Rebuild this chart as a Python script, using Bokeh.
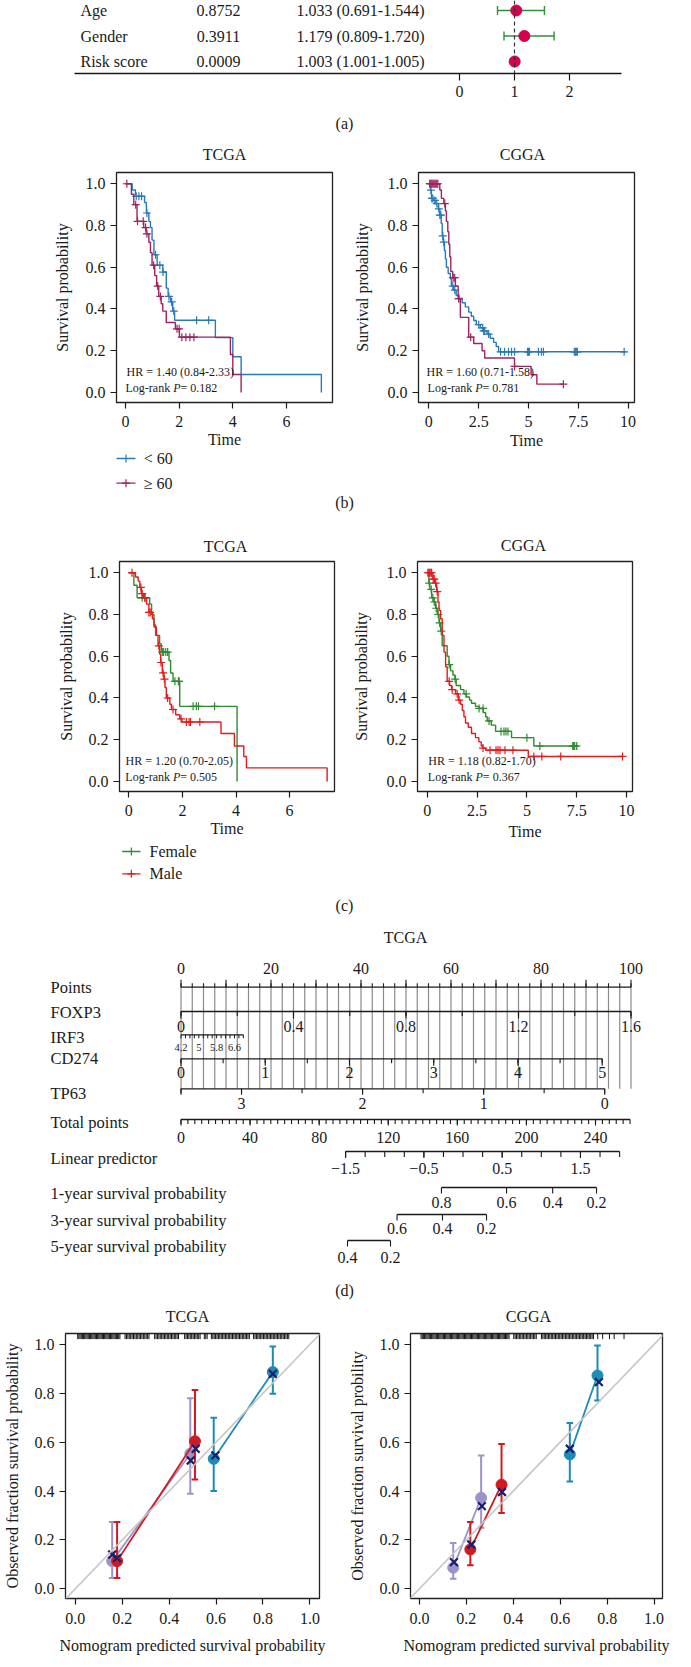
import numpy as np
from bokeh.plotting import figure
from bokeh.models import Range1d, FixedTicker, Label, Span, Slope
from bokeh.layouts import column, row
from bokeh.core.properties import value
from bokeh.embed import file_html
from bokeh.resources import INLINE

FONT = "Liberation Serif"
INK = "#1a1a1a"

# ======================= DATA =======================
# (a) multivariate Cox forest
forest_vars = ["Age", "Gender", "Risk score"]
forest_p = ["0.8752", "0.3911", "0.0009"]
forest_hr = [1.033, 1.179, 1.003]
forest_lo = [0.691, 0.809, 1.001]
forest_hi = [1.544, 1.720, 1.005]
forest_ticks = [0, 1, 2]

# (b) age groups  -- TCGA
b_tcga_young_t = [0, 0.25, 0.37, 0.71, 0.78, 0.87, 0.93, 0.99, 1.06, 1.18, 1.39, 1.52, 1.59, 1.68, 1.76, 1.83, 3.35, 4.0, 4.31, 7.3]
b_tcga_young_s = [1.0, 0.97, 0.94, 0.91, 0.86, 0.82, 0.79, 0.73, 0.66, 0.61, 0.577, 0.50, 0.46, 0.434, 0.39, 0.346, 0.263, 0.171, 0.086, 0.0]
b_tcga_young_c = [0.4, 0.5, 0.6, 0.8, 1.12, 1.28, 1.4, 1.62, 1.72, 1.8, 2.65, 3.1]
b_tcga_old_t = [0, 0.22, 0.31, 0.43, 0.68, 0.77, 0.87, 0.93, 0.99, 1.09, 1.16, 1.24, 1.33, 1.39, 1.52, 1.86, 2.01, 3.91, 4.0, 4.31]
b_tcga_old_s = [1.0, 0.95, 0.90, 0.82, 0.79, 0.76, 0.72, 0.67, 0.61, 0.56, 0.51, 0.46, 0.425, 0.39, 0.335, 0.305, 0.265, 0.182, 0.086, 0.0]
b_tcga_old_c = [0.05, 0.38, 0.45, 0.66, 0.75, 0.8, 1.05, 1.2, 1.3, 1.92, 2.0, 2.1, 2.25, 2.4, 2.55]
# (b) age groups  -- CGGA
b_cgga_young_t = [0, 0.08, 0.13, 0.25, 0.33, 0.47, 0.55, 0.62, 0.67, 0.72, 0.78, 0.83, 0.88, 0.97, 1.08, 1.13, 1.25, 1.37, 1.5, 1.67, 1.83, 2.0, 2.13, 2.25, 2.38, 2.58, 2.75, 2.92, 3.08, 3.25, 3.38, 3.5, 9.9]
b_cgga_young_s = [1.0, 0.97, 0.93, 0.92, 0.905, 0.88, 0.85, 0.81, 0.75, 0.72, 0.68, 0.64, 0.60, 0.57, 0.545, 0.51, 0.49, 0.465, 0.45, 0.43, 0.41, 0.385, 0.365, 0.345, 0.325, 0.31, 0.295, 0.28, 0.26, 0.24, 0.22, 0.195, 0.195]
b_cgga_young_c = [0.05, 0.1, 0.15, 0.2, 0.3, 0.4, 0.5, 0.55, 0.6, 0.7, 0.75, 1.2, 1.3, 1.5, 2.5, 2.7, 2.75, 2.8, 3.0, 3.6, 3.8, 4.0, 4.15, 4.3, 4.95, 5.0, 5.05, 5.5, 5.65, 5.75, 7.3, 7.35, 7.4, 7.45, 9.8]
b_cgga_old_t = [0, 0.55, 0.63, 0.75, 0.83, 0.88, 0.95, 1.0, 1.05, 1.1, 1.2, 1.33, 1.47, 1.58, 2.0, 2.25, 2.67, 2.8, 4.3, 5.13, 5.42, 6.75]
b_cgga_old_s = [1.0, 0.97, 0.93, 0.905, 0.87, 0.82, 0.77, 0.71, 0.65, 0.58, 0.55, 0.51, 0.45, 0.36, 0.265, 0.235, 0.20, 0.165, 0.125, 0.085, 0.04, 0.04]
b_cgga_old_c = [0.05, 0.1, 0.15, 0.2, 0.25, 0.3, 0.35, 0.4, 0.45, 0.8, 1.22, 1.3, 1.5, 2.1, 4.3, 6.75]

# (c) gender groups -- TCGA
c_tcga_f_t = [0, 0.19, 0.31, 0.78, 0.85, 0.94, 1.0, 1.15, 1.21, 1.5, 1.56, 1.65, 1.9, 4.04]
c_tcga_f_s = [1.0, 0.94, 0.88, 0.85, 0.80, 0.75, 0.70, 0.66, 0.62, 0.58, 0.52, 0.48, 0.36, 0.0]
c_tcga_f_c = [0.5, 0.6, 1.25, 1.3, 1.38, 1.45, 1.72, 1.85, 1.88, 2.4, 2.52, 2.6, 3.2]
c_tcga_m_t = [0, 0.25, 0.35, 0.41, 0.47, 0.54, 0.66, 0.75, 0.88, 0.94, 1.03, 1.09, 1.15, 1.19, 1.25, 1.31, 1.35, 1.4, 1.53, 1.59, 1.75, 1.9, 1.98, 3.44, 3.94, 4.29, 4.39, 7.4]
c_tcga_m_s = [1.0, 0.98, 0.96, 0.93, 0.90, 0.88, 0.85, 0.81, 0.78, 0.74, 0.70, 0.65, 0.61, 0.57, 0.52, 0.49, 0.45, 0.40, 0.37, 0.345, 0.32, 0.30, 0.285, 0.23, 0.17, 0.12, 0.065, 0.0]
c_tcga_m_c = [0.12, 0.45, 0.5, 0.6, 0.75, 0.8, 1.12, 1.2, 1.28, 1.33, 1.45, 1.65, 1.95, 2.15, 2.25, 2.3, 2.65]
# (c) gender groups -- CGGA
c_cgga_f_t = [0, 0.08, 0.13, 0.22, 0.33, 0.42, 0.5, 0.59, 0.67, 0.75, 1.0, 1.09, 1.17, 1.29, 1.39, 1.45, 1.67, 1.84, 1.96, 2.12, 2.22, 2.42, 2.59, 2.81, 2.93, 3.01, 3.21, 3.43, 4.23, 5.35, 7.6]
c_cgga_f_s = [1.0, 0.95, 0.92, 0.88, 0.86, 0.83, 0.80, 0.76, 0.72, 0.65, 0.60, 0.56, 0.53, 0.51, 0.49, 0.46, 0.44, 0.42, 0.405, 0.39, 0.375, 0.36, 0.35, 0.33, 0.31, 0.29, 0.27, 0.24, 0.21, 0.17, 0.17]
c_cgga_f_c = [0.1, 0.2, 0.28, 0.35, 0.45, 0.55, 0.62, 0.7, 1.1, 1.4, 1.95, 2.6, 2.8, 3.1, 3.7, 3.85, 3.95, 4.05, 5.0, 5.65, 7.3, 7.35, 7.4, 7.5]
c_cgga_m_t = [0, 0.28, 0.38, 0.47, 0.54, 0.59, 0.67, 0.75, 0.84, 0.92, 1.0, 1.12, 1.22, 1.42, 1.56, 1.67, 1.76, 1.84, 1.92, 2.06, 2.22, 2.42, 2.59, 2.71, 2.79, 2.93, 5.07, 9.8]
c_cgga_m_s = [1.0, 0.97, 0.95, 0.91, 0.86, 0.82, 0.78, 0.70, 0.62, 0.55, 0.48, 0.46, 0.44, 0.42, 0.39, 0.37, 0.34, 0.31, 0.28, 0.26, 0.23, 0.21, 0.19, 0.17, 0.16, 0.15, 0.12, 0.12]
c_cgga_m_c = [0.03, 0.08, 0.12, 0.18, 0.22, 0.3, 0.35, 0.42, 0.5, 1.1, 1.25, 1.5, 1.6, 2.8, 3.15, 3.45, 3.55, 3.65, 3.9, 4.3, 5.35, 5.75, 6.7, 9.8]

km_hr = {"b_tcga": "HR = 1.40 (0.84-2.33)", "b_cgga": "HR = 1.60 (0.71-1.58)",
         "c_tcga": "HR = 1.20 (0.70-2.05)", "c_cgga": "HR = 1.18 (0.82-1.70)"}
km_p = {"b_tcga": "0.182", "b_cgga": "0.781", "c_tcga": "0.505", "c_cgga": "0.367"}
age_groups = ["< 60", "\u2265 60"]
sex_groups = ["Female", "Male"]
prob_ticks = [0, 0.2, 0.4, 0.6, 0.8, 1]
prob_labels = {0: "0.0", 0.2: "0.2", 0.4: "0.4", 0.6: "0.6", 0.8: "0.8", 1: "1.0"}
tcga_xticks = [0, 2, 4, 6]
cgga_xticks = [0, 2.5, 5, 7.5, 10]
cgga_xlabels = {0: "0", 2.5: "2.5", 5: "5", 7.5: "7.5", 10: "10"}

# (d) nomogram (TCGA)
nom_rows = ["Points", "FOXP3", "IRF3", "CD274", "TP63", "Total points", "Linear predictor",
            "1-year survival probability", "3-year survival probability", "5-year survival probability"]
points_labels = [0, 20, 40, 60, 80, 100]
foxp3_range = (0.0, 1.6); foxp3_pts_per_unit = 62.5
foxp3_labels = [0, 0.4, 0.8, 1.2, 1.6]
irf3_range = (4.2, 7.0); irf3_pts_per_unit = 4.95
irf3_labels = [4.2, 5, 5.8, 6.6]
cd274_range = (0.0, 5.0); cd274_pts_per_unit = 18.72
cd274_labels = [0, 1, 2, 3, 4, 5]
tp63_range = (3.5, 0.0); tp63_pts_per_unit = 26.9
tp63_labels = [3, 2, 1, 0]
total_max = 260
total_labels = [0, 40, 80, 120, 160, 200, 240]
total_to_points = 0.3838
lp_range = (-1.5, 2.0); lp_total_at_min = 95.3; lp_total_per_unit = 45.33
lp_labels = [-1.5, -0.5, 0.5, 1.5]
surv1_vals = [0.8, 0.6, 0.4, 0.2]; surv1_total = [150.8, 188.5, 215.2, 240.6]
surv3_vals = [0.6, 0.4, 0.2]; surv3_total = [125.1, 151.4, 176.9]
surv5_vals = [0.4, 0.2]; surv5_total = [96.4, 121.3]

# (e) calibration: predicted, observed, CI low, CI high, bias-corrected (cx, cy)
cal_tcga = {
    "5-year": dict(pred=[0.157, 0.49], obs=[0.113, 0.553], lo=[0.044, 0.389], hi=[0.273, 0.78],
                   cx=[0.157, 0.492], cy=[0.14, 0.525]),
    "3-year": dict(pred=[0.178, 0.51], obs=[0.113, 0.604], lo=[0.044, 0.447], hi=[0.273, 0.814],
                   cx=[0.178, 0.513], cy=[0.125, 0.573]),
    "1-year": dict(pred=[0.59, 0.842], obs=[0.532, 0.887], lo=[0.40, 0.798], hi=[0.70, 0.992],
                   cx=[0.597, 0.842], cy=[0.546, 0.88]),
}
cal_cgga = {
    "5-year": dict(pred=[0.144, 0.263], obs=[0.086, 0.372], lo=[0.041, 0.25], hi=[0.187, 0.546],
                   cx=[0.147, 0.266], cy=[0.109, 0.338]),
    "3-year": dict(pred=[0.217, 0.35], obs=[0.161, 0.426], lo=[0.096, 0.31], hi=[0.273, 0.593],
                   cx=[0.221, 0.352], cy=[0.181, 0.396]),
    "1-year": dict(pred=[0.641, 0.759], obs=[0.55, 0.873], lo=[0.439, 0.771], hi=[0.679, 0.996],
                   cx=[0.641, 0.765], cy=[0.573, 0.846]),
}
# predicted-risk distribution ticks along the top of the calibration plots
rug_tcga = [0.010, 0.015, 0.020, 0.025, 0.030, 0.035, 0.040, 0.045, 0.050, 0.055, 0.060, 0.065, 0.070,
            0.075, 0.080, 0.085, 0.090, 0.095, 0.100, 0.105, 0.110, 0.115, 0.120, 0.125, 0.130, 0.135,
            0.140, 0.145, 0.150, 0.155, 0.160, 0.165, 0.170, 0.175, 0.180, 0.185, 0.190,
            0.212, 0.218, 0.224, 0.230, 0.236, 0.242, 0.248, 0.254, 0.260, 0.266, 0.272, 0.278, 0.284,
            0.290, 0.296, 0.302, 0.308, 0.314,
            0.338, 0.344, 0.350, 0.356, 0.362, 0.368, 0.374, 0.380, 0.386, 0.392, 0.398, 0.404, 0.410,
            0.416, 0.422, 0.428, 0.434, 0.440,
            0.466, 0.472, 0.478, 0.484, 0.490, 0.496, 0.502, 0.508, 0.514, 0.520, 0.526, 0.532,
            0.550, 0.556, 0.562,
            0.580, 0.586, 0.592, 0.598, 0.604, 0.610, 0.616, 0.622, 0.628, 0.634, 0.640, 0.646, 0.652,
            0.658, 0.664, 0.670, 0.676, 0.682, 0.688, 0.694, 0.700, 0.706, 0.712, 0.718, 0.724, 0.730,
            0.736, 0.742,
            0.760, 0.766, 0.772, 0.778, 0.784, 0.790, 0.796, 0.802, 0.808, 0.814, 0.820, 0.826, 0.832,
            0.838, 0.844, 0.850, 0.856, 0.862, 0.868, 0.874, 0.880, 0.886, 0.892, 0.898, 0.904, 0.910]
rug_cgga = [0.007, 0.012, 0.017, 0.022, 0.027, 0.032, 0.037, 0.042, 0.047, 0.052, 0.057, 0.062, 0.067,
            0.072, 0.077, 0.082, 0.087, 0.092, 0.097, 0.102, 0.107, 0.112, 0.117, 0.122, 0.127, 0.132,
            0.137, 0.142, 0.147, 0.152, 0.157, 0.162, 0.167, 0.172, 0.177, 0.182, 0.187, 0.192, 0.197,
            0.202, 0.207, 0.212, 0.217, 0.222, 0.227, 0.232, 0.237, 0.242, 0.247, 0.252, 0.257, 0.262,
            0.267, 0.272, 0.277, 0.282, 0.287, 0.292, 0.297, 0.302, 0.307, 0.312, 0.317, 0.322, 0.327,
            0.332, 0.337, 0.342, 0.347, 0.352, 0.357, 0.362, 0.367, 0.372, 0.377, 0.382,
            0.402, 0.408, 0.414, 0.420, 0.426, 0.432, 0.438, 0.444, 0.450, 0.456, 0.462, 0.468, 0.474,
            0.480, 0.486, 0.492, 0.498,
            0.520, 0.526, 0.532, 0.538, 0.544, 0.550, 0.556, 0.562, 0.568, 0.574, 0.580, 0.586, 0.592,
            0.598, 0.604, 0.610, 0.616, 0.622, 0.628, 0.634, 0.640, 0.646, 0.652, 0.658, 0.664, 0.670,
            0.676, 0.682, 0.688, 0.694, 0.700, 0.706, 0.712, 0.718, 0.724, 0.730, 0.736, 0.742,
            0.760, 0.781, 0.810, 0.830, 0.872]

# ======================= STYLE =======================
BLUE, MAGENTA = "#2a7ab9", "#a0225f"
GREEN, RED = "#2e8b2e", "#e41a1c"
DOT, WHISK = "#d6004f", "#2f8f3a"
LAV, CRED, TEAL, NAVY, DIAG = "#9c94c8", "#d01a1f", "#1b8cb6", "#1c1f6b", "#c6c6c6"
CAL_COL = {"5-year": LAV, "3-year": CRED, "1-year": TEAL}
TW = 691  # total width


def base_fig(W, H, xr, yr, bl=0, br=0, bt=0, bb=0, xloc="below", yloc="left"):
    p = figure(width=W, height=H, x_range=Range1d(*xr), y_range=Range1d(*yr), title=None,
               toolbar_location=None, output_backend="svg", min_border_left=bl,
               min_border_right=br, min_border_top=bt, min_border_bottom=bb,
               background_fill_color="white", border_fill_color="white",
               x_axis_location=xloc, y_axis_location=yloc)
    p.xgrid.visible = False
    p.ygrid.visible = False
    return p


def axis_style(ax, ticks, label="", tick_out=6, lab_so=4, label_so=5, overrides=None, fs="16px"):
    ax.ticker = FixedTicker(ticks=ticks)
    if overrides:
        ax.major_label_overrides = overrides
    ax.major_tick_out = tick_out
    ax.major_tick_in = 0
    ax.minor_tick_out = 0
    ax.minor_tick_in = 0
    ax.major_tick_line_color = INK
    ax.major_tick_line_width = 1.2
    ax.axis_line_color = None
    ax.major_label_text_font = FONT
    ax.major_label_text_font_size = fs
    ax.major_label_text_color = INK
    ax.major_label_standoff = lab_so
    ax.axis_label = label
    ax.axis_label_text_font = FONT
    ax.axis_label_text_font_size = fs
    ax.axis_label_text_font_style = "normal"
    ax.axis_label_text_color = INK
    ax.axis_label_standoff = label_so


tkw = dict(text_font=value(FONT), text_color=INK, text_baseline="middle")


def step_at(times, surv, t):
    idx = np.searchsorted(np.asarray(times), np.asarray(t), side="right") - 1
    return list(np.asarray(surv)[idx])


# ======================= (a) forest =======================
# layout: frame = whole strip; page x of HR=0 and px per HR unit; page y of first row, row step
AX0, AXU = 459.0, 55.0
ROW_TOP, ROW_STEP = 10, 25.5
fa = base_fig(TW, 104, ((0 - AX0) / AXU, (TW - AX0) / AXU),
              ((73 - ROW_TOP) / ROW_STEP, (0 - ROW_TOP) / ROW_STEP), bb=31, yloc=None)
fa.outline_line_color = None
rows_a = [0, 1, 2]
fa.add_layout(Span(location=1, dimension="height", line_color="#333333", line_dash="4 3", line_width=1.2))
fa.segment(x0=forest_lo, y0=rows_a, x1=forest_hi, y1=rows_a, line_color=WHISK, line_width=1.4)
cap = 4.5 / ROW_STEP
fa.segment(x0=forest_lo, y0=[r - cap for r in rows_a], x1=forest_lo, y1=[r + cap for r in rows_a],
           line_color=WHISK, line_width=1.4)
fa.segment(x0=forest_hi, y0=[r - cap for r in rows_a], x1=forest_hi, y1=[r + cap for r in rows_a],
           line_color=WHISK, line_width=1.4)
fa.scatter(x=forest_hr, y=rows_a, size=11, fill_color=DOT, line_color=DOT)
hr_txt = ["%.3f (%.3f-%.3f)" % (h, l, u) for h, l, u in zip(forest_hr, forest_lo, forest_hi)]
fa.text(x=(80 - AX0) / AXU, y=rows_a, text=forest_vars, text_align="left", text_font_size="16px", **tkw)
fa.text(x=(218 - AX0) / AXU, y=rows_a, text=forest_p, text_align="center", text_font_size="16px", **tkw)
fa.text(x=(296 - AX0) / AXU, y=rows_a, text=hr_txt, text_align="left", text_font_size="16px", **tkw)
axis_style(fa.xaxis[0], forest_ticks, tick_out=7, lab_so=5)
fa.xaxis[0].axis_line_color = INK
fa.xaxis[0].axis_line_width = 1.5
fa.xaxis[0].bounds = ((74 - AX0) / AXU, (621 - AX0) / AXU)


# ======================= tag strips (page-pixel coordinates) =======================
def strip(y_top, H):
    p = base_fig(TW, H, (0, TW), (y_top + H, y_top), xloc=None, yloc=None)
    p.outline_line_color = None
    return p


def put(p, X, Y, text, align="center", size="16px"):
    p.text(x=[X], y=[Y], text=[text], text_align=align, text_font_size=size, **tkw)


def legend_rows(p, labels, colors, x0, x1, xt, ys):
    for lab, col, y in zip(labels, colors, ys):
        p.segment(x0=[x0], y0=[y], x1=[x1], y1=[y], line_color=col, line_width=1.3)
        p.scatter(x=[(x0 + x1) / 2], y=[y], marker="cross", size=8, line_color=col, line_width=1.2)
        put(p, xt, y, lab, align="left")


tagA = strip(104, 61)
put(tagA, 344, 123, "(a)")
put(tagA, 224, 154, "TCGA")
put(tagA, 522, 154, "CGGA")


# ======================= KM panels =======================
def km_panel(W, H, bl, br, bt, bb, xr, xticks, curves, key, hr_x, lr_x, ylab_so, xlab_so, overrides=None):
    p = base_fig(W, H, xr, (-0.048, 1.054), bl=bl, br=br, bt=bt, bb=bb)
    p.outline_line_color = "#222222"
    p.outline_line_width = 1.3
    axis_style(p.xaxis[0], xticks, label="Time", lab_so=7, label_so=xlab_so, overrides=overrides)
    axis_style(p.yaxis[0], prob_ticks, label="Survival probability", lab_so=5, label_so=ylab_so,
               overrides=prob_labels)
    for t, s, c, col in curves:
        p.step(x=t, y=s, mode="after", line_color=col, line_width=1.4)
        p.scatter(x=c, y=step_at(t, s, c), marker="cross", size=8, line_color=col, line_width=1.2)
    lkw = dict(text_font=FONT, text_font_size="12px", text_color=INK, text_baseline="middle")
    p.add_layout(Label(x=hr_x, y=0.097, text=km_hr[key], **lkw))
    p.add_layout(Label(x=lr_x, y=0.021, text="Log-rank ", **lkw))
    p.add_layout(Label(x=lr_x, y=0.021, x_offset=47.7, text="P", text_font_style="italic", **lkw))
    p.add_layout(Label(x=lr_x, y=0.021, x_offset=55.0, text=" = " + km_p[key], **lkw))
    return p


b1 = km_panel(345, 286, 116, 13, 7, 49, (-0.335, 7.715), tcga_xticks,
              [(b_tcga_young_t, b_tcga_young_s, b_tcga_young_c, BLUE),
               (b_tcga_old_t, b_tcga_old_s, b_tcga_old_c, MAGENTA)],
              "b_tcga", 0.037, 0.0, 12, 1)
b2 = km_panel(346, 286, 73, 57, 7, 49, (-0.52, 10.32), cgga_xticks,
              [(b_cgga_young_t, b_cgga_young_s, b_cgga_young_c, BLUE),
               (b_cgga_old_t, b_cgga_old_s, b_cgga_old_c, MAGENTA)],
              "b_cgga", -0.115, -0.065, 14, 2, overrides=cgga_xlabels)

tagB = strip(451, 106)
legend_rows(tagB, age_groups, [BLUE, MAGENTA], 116, 135, 143.3, [458, 482.7])
put(tagB, 344, 502, "(b)")
put(tagB, 225, 546, "TCGA")
put(tagB, 523, 545, "CGGA")

c1 = km_panel(345, 287, 119, 11, 4, 53, (-0.347, 7.675), tcga_xticks,
              [(c_tcga_f_t, c_tcga_f_s, c_tcga_f_c, GREEN),
               (c_tcga_m_t, c_tcga_m_s, c_tcga_m_c, RED)],
              "c_tcga", -0.12, -0.13, 11, 1)
c2 = km_panel(346, 287, 72, 59, 4, 53, (-0.49, 10.3), cgga_xticks,
              [(c_cgga_f_t, c_cgga_f_s, c_cgga_f_c, GREEN),
               (c_cgga_m_t, c_cgga_m_s, c_cgga_m_c, RED)],
              "c_cgga", 0.05, 0.03, 14, 4, overrides=cgga_xlabels)

tagC = strip(844, 71)
legend_rows(tagC, sex_groups, [GREEN, RED], 121.7, 140, 149, [851, 873.3])
put(tagC, 344, 905, "(c)")

# ======================= (d) nomogram =======================
PX0, PXS = 180.5, 4.5        # layout: page x of 0 points, pixels per point


def px2pts(X):
    return (X - PX0) / PXS


fd = base_fig(TW, 411, (px2pts(0), px2pts(TW)), (1326, 915), xloc=None, yloc=None)
fd.outline_line_color = None


def hline(a, b, y):
    fd.segment(x0=[a], y0=[y], x1=[b], y1=[y], line_color=INK, line_width=1.3)


def ticks(xs, y, L, w=1.1):
    xs = list(xs)
    fd.segment(x0=xs, y0=[y] * len(xs), x1=xs, y1=[y + L] * len(xs), line_color=INK, line_width=w)


def tlabels(xs, y, txt, size="16px"):
    xs = list(xs)
    fd.text(x=xs, y=[y] * len(xs), text=txt, text_align="center", text_font_size=size, **tkw)


def fmt(v):
    return ("%g" % v).replace("-", "\u2212")


grid_pts = np.arange(0, 100.01, 2.5)
fd.segment(x0=grid_pts, y0=986.7, x1=grid_pts, y1=1088.3, line_color="#8a8a8a", line_width=1.2)

row_Y = [987, 1012, 1037, 1058, 1093, 1122, 1158, 1193, 1220, 1246]
fd.text(x=px2pts(50), y=row_Y, text=nom_rows, text_align="left", text_font_size="16.5px", **tkw)
fd.text(x=[px2pts(405)], y=[937], text=["TCGA"], text_align="center", text_font_size="16px", **tkw)

# Points
hline(0, 100, 986.7)
ticks(np.arange(0, 100.01, 2.5), 986.7, -4)
ticks(np.arange(0, 100.01, 10), 986.7, -7.5)
tlabels(points_labels, 968, [str(v) for v in points_labels])
# FOXP3
f_pts = lambda v: (v - foxp3_range[0]) * foxp3_pts_per_unit
hline(f_pts(foxp3_range[0]), f_pts(foxp3_range[1]), 1011)
ticks([f_pts(v) for v in np.arange(0, 1.601, 0.2)], 1011, 4.5)
ticks([f_pts(v) for v in foxp3_labels], 1011, 7)
tlabels([f_pts(v) for v in foxp3_labels], 1025.7, [fmt(v) for v in foxp3_labels])
# IRF3
i_pts = lambda v: (v - irf3_range[0]) * irf3_pts_per_unit
hline(i_pts(irf3_range[0]), i_pts(irf3_range[1]), 1034.3)
ticks([i_pts(v) for v in np.arange(4.2, 7.001, 0.2)], 1034.3, 3.5, w=1.0)
tlabels([i_pts(v) for v in irf3_labels], 1046.7, [fmt(v) for v in irf3_labels], size="10.5px")
# CD274
c_pts = lambda v: (v - cd274_range[0]) * cd274_pts_per_unit
hline(c_pts(cd274_range[0]), c_pts(cd274_range[1]), 1058.3)
ticks([c_pts(v) for v in np.arange(0, 5.001, 0.5)], 1058.3, 4.5)
ticks([c_pts(v) for v in cd274_labels], 1058.3, 7)
tlabels([c_pts(v) for v in cd274_labels], 1072.3, [fmt(v) for v in cd274_labels])
# TP63
t_pts = lambda v: (tp63_range[0] - v) * tp63_pts_per_unit
hline(t_pts(tp63_range[0]), t_pts(tp63_range[1]), 1088.3)
ticks([t_pts(v) for v in np.arange(0, 3.501, 0.5)], 1088.3, 4.5)
ticks([t_pts(v) for v in tp63_labels + [3.5]], 1088.3, 6)
tlabels([t_pts(v) for v in tp63_labels], 1103.3, [fmt(v) for v in tp63_labels])
# Total points
tot = lambda T: T * total_to_points
hline(tot(0), tot(total_max), 1119)
ticks([tot(T) for T in np.arange(0, total_max + 0.1, 4)], 1119, 4.5)
ticks([tot(T) for T in total_labels], 1119, 6)
tlabels([tot(T) for T in total_labels], 1137, [str(v) for v in total_labels])
# Linear predictor
lp_tot = lambda v: lp_total_at_min + (v - lp_range[0]) * lp_total_per_unit
hline(tot(lp_tot(lp_range[0])), tot(lp_tot(lp_range[1])), 1151)
ticks([tot(lp_tot(v)) for v in np.arange(-1.5, 2.001, 0.25)], 1151, 5.5)
ticks([tot(lp_tot(v)) for v in lp_labels], 1151, 6.5)
tlabels([tot(lp_tot(v)) for v in lp_labels], 1168, [fmt(v) for v in lp_labels])
# survival probabilities
for vals, tots, yl, ylab in [(surv1_vals, surv1_total, 1187, 1202),
                             (surv3_vals, surv3_total, 1214, 1228),
                             (surv5_vals, surv5_total, 1240, 1257)]:
    xs = [tot(T) for T in tots]
    hline(min(xs), max(xs), yl)
    ticks(xs, yl, 6)
    tlabels(xs, ylab, [fmt(v) for v in vals])
fd.text(x=[px2pts(344)], y=[1290], text=["(d)"], text_align="center", text_font_size="16px", **tkw)
# titles of the calibration plots
fd.text(x=[px2pts(187), px2pts(528)], y=[1316, 1316], text=["TCGA", "CGGA"], text_align="center",
        text_font_size="16px", **tkw)


# ======================= (e) calibration =======================
def calib_panel(W, bl, br, xr, groups, rug, ylabel, ylab_so):
    p = base_fig(W, 341, xr, (-0.04, 1.045), bl=bl, br=br, bt=7, bb=69)
    p.outline_line_color = "#222222"
    p.outline_line_width = 1.3
    axis_style(p.xaxis[0], prob_ticks, label="Nomogram predicted survival probability", lab_so=8,
               label_so=10, overrides=prob_labels)
    axis_style(p.yaxis[0], prob_ticks, label=ylabel, lab_so=5, label_so=ylab_so, overrides=prob_labels)
    p.add_layout(Slope(gradient=1, y_intercept=0, line_color=DIAG, line_width=1.6))
    p.segment(x0=rug, y0=1.045, x1=rug, y1=1.022, line_color="#111111", line_width=1.0)
    capw = 0.014
    for name in ["5-year", "3-year", "1-year"]:
        g, col = groups[name], CAL_COL[name]
        p.segment(x0=g["pred"], y0=g["lo"], x1=g["pred"], y1=g["hi"], line_color=col, line_width=2)
        for end in ("lo", "hi"):
            p.segment(x0=[v - capw for v in g["pred"]], y0=g[end], x1=[v + capw for v in g["pred"]],
                      y1=g[end], line_color=col, line_width=2)
        p.line(x=g["pred"], y=g["obs"], line_color=col, line_width=1.8)
        p.scatter(x=g["pred"], y=g["obs"], size=11, fill_color=col, line_color=col)
    for name in ["5-year", "3-year", "1-year"]:
        g = groups[name]
        p.scatter(x=g["cx"], y=g["cy"], marker="x", size=11, line_color=NAVY, line_width=2.2)
    return p


e1 = calib_panel(345, 61, 26, (-0.042, 1.041), cal_tcga, rug_tcga,
                 "Observed fraction survival probability", 11)
e2 = calib_panel(346, 61, 29, (-0.038, 1.036), cal_cgga, rug_cgga,
                 "Observed fraction survival probility", 11)

layout = column(fa, tagA, row(b1, b2), tagB, row(c1, c2), tagC, fd, row(e1, e2))
open("out.html", "w").write(file_html(layout, INLINE))
